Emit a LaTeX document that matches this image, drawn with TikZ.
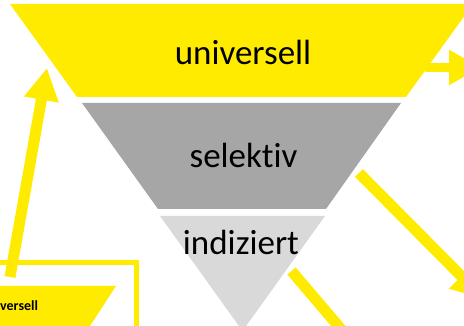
\documentclass[tikz,border=0pt]{standalone}
\usepackage{fontspec}
\setmainfont[Ligatures=NoCommon]{Carlito}
\usetikzlibrary{arrows.meta}
\definecolor{fyellow}{HTML}{FFEB00}
\definecolor{fgray}{HTML}{A6A6A6}
\definecolor{flight}{HTML}{D9D9D9}
\tikzset{
  layer/.style={inner sep=0pt, font=\fontsize{35}{40}\selectfont, anchor=base},
  bigarrow/.style={draw=fyellow, line width=11pt,
    -{Triangle[length=32pt,width=33pt]}},
  bar/.style={draw=fyellow, line width=11pt},
}
\begin{document}
\begin{tikzpicture}[x=1pt,y=-1pt]
\useasboundingbox (0,0) rectangle (464,326);
% funnel
\fill[fyellow] (10,4) -- (473,4) -- (406,97) -- (77,97) -- cycle;
\fill[fgray] (82,103) -- (401,103) -- (326,209) -- (158,209) -- cycle;
\fill[flight] (160,216) -- (325,216) -- (242.5,331) -- cycle;
\node[layer] (uni) at (243,65) {universell};
\node[layer] (sel) at (243.5,168) {selektiv};
\node[layer] (ind) at (241,255) {indiziert};
% small copy at bottom left
\draw[fyellow, line width=5pt] (-5,263) -- (136.5,263) -- (136.5,335);
\fill[fyellow] (-10,286) -- (116,286) -- (90,326) -- (-10,326) -- cycle;
\node[inner sep=0pt, anchor=base west, font=\fontsize{14}{17}\bfseries] (small) at (0,311) {versell};
% arrows
\coordinate (r0) at (425,67.5);
\coordinate (r1) at (481,67.5);
\draw[bigarrow, line width=9.5pt] (r0) -- (r1);
\coordinate (l0) at (10,277);
\coordinate (l1) at (47,68);
\draw[bigarrow] (l0) -- (l1);
\coordinate (d0) at (359,173);
\coordinate (d1) at (484,299);
\draw[bigarrow] (d0) -- (d1);
\coordinate (e0) at (291.5,271);
\coordinate (e1) at (346,335);
\draw[bar] (e0) -- (e1);
\end{tikzpicture}
\end{document}
